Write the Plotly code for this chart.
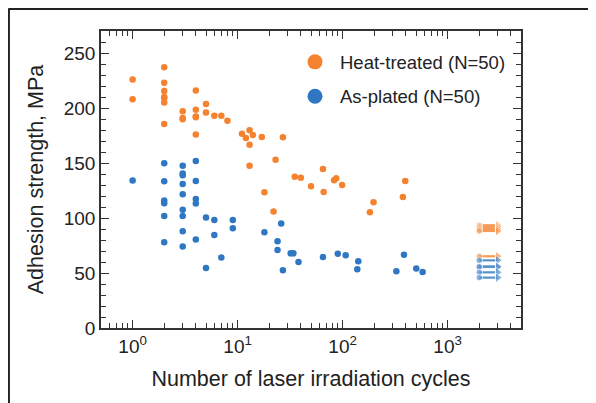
import plotly.graph_objects as go

# ---------------- data ----------------
heat_cycles = [1, 1,
               2, 2, 2, 2, 2, 2, 2,
               3, 3, 3,
               4, 4, 4, 4, 4,
               5, 5, 6, 7, 8, 11, 12, 13, 13, 13, 14, 17, 18, 22, 23, 27,
               35, 40, 50, 65, 66, 83, 87, 99, 182, 197, 375, 395]
heat_strength = [226, 208,
                 237, 223, 215.5, 210, 209, 205, 185.5,
                 197, 191, 189.7,
                 216, 198.5, 192.2, 191.5, 176,
                 203.6, 195.8, 193, 193, 188.5, 176.7, 172.7, 179.7, 166.7, 147.6,
                 175.5, 173.6, 123.4, 106, 153, 173.4,
                 137.6, 136.7, 128.8, 144.5, 123.6, 134.3, 136.1, 130, 105.2, 114.3, 119.1, 133.6]

plated_cycles = [1,
                 2, 2, 2, 2, 2, 2,
                 3, 3, 3, 3, 3, 3, 3, 3, 3,
                 4, 4, 4, 4, 4,
                 5, 5, 6, 6, 7, 9, 9, 18, 24, 24, 26, 27, 32, 34, 38,
                 65, 90, 107, 138, 141, 325, 384, 503, 578]
plated_strength = [134,
                   149.7, 133.4, 115.8, 113.4, 101.8, 77.9,
                   147.6, 140.4, 138.8, 130.9, 121.5, 107.6, 101.8, 87.9, 74,
                   151.8, 133.6, 117.3, 113.1, 80.4,
                   100.4, 54.5, 98.2, 84.5, 64, 98.2, 90.6, 87, 78.8, 70.9, 94.9, 52.5, 67.9, 67.9, 60,
                   64.5, 67.6, 66.1, 53.4, 60.6, 51.5, 66.7, 54, 50.9]

# run-outs (specimens not failed): start and end of the arrow
runout_start = 2000
runout_end = 3000
heat_runout = [93.4, 91.8, 90, 88.2, 65.2]
plated_runout = [61.5, 56, 55.5, 50.6, 45.8]

x_tickvals = [1, 10, 100, 1000]
x_ticktext = ["10<sup>0</sup>", "10<sup>1</sup>", "10<sup>2</sup>", "10<sup>3</sup>"]

ORANGE = "#F5822E"
BLUE = "#2F77C3"
FONT = "Liberation Sans, Arial, sans-serif"
INK = "#222222"

fig = go.Figure()


def runout_trace(values, color):
    xs, ys, syms, sizes = [], [], [], []
    for v in values:
        xs += [runout_start, runout_end, None]
        ys += [v, v, None]
        syms += ["circle", "triangle-right", "circle"]
        sizes += [6.5, 9, 0]
    return go.Scatter(x=xs, y=ys, mode="lines+markers",
                      line=dict(color=color, width=2.2),
                      marker=dict(color=color, size=sizes, symbol=syms),
                      opacity=0.8, showlegend=False, hoverinfo="skip")


fig.add_trace(runout_trace(heat_runout, ORANGE))
fig.add_trace(runout_trace(plated_runout, BLUE))

fig.add_trace(go.Scatter(x=heat_cycles, y=heat_strength, mode="markers",
                         marker=dict(color=ORANGE, size=6.5), showlegend=False))
fig.add_trace(go.Scatter(x=plated_cycles, y=plated_strength, mode="markers",
                         marker=dict(color=BLUE, size=6.5), showlegend=False))

# legend entries (large symbols)
fig.add_trace(go.Scatter(x=[None], y=[None], mode="markers", name="Heat-treated (N=50)",
                         marker=dict(color=ORANGE, size=15), legend="legend"))
fig.add_trace(go.Scatter(x=[None], y=[None], mode="markers", name="As-plated (N=50)",
                         marker=dict(color=BLUE, size=15), legend="legend2"))

axis_common = dict(
    showline=True, linecolor="#333333", linewidth=1.5, mirror="ticks",
    ticks="inside", ticklen=8, tickwidth=1.3, tickcolor="#333333",
    showgrid=False, zeroline=False,
    tickfont=dict(family=FONT, size=19, color=INK),
)

fig.update_xaxes(
    type="log", range=[-0.30103, 3.69897],
    tickmode="array", tickvals=x_tickvals, ticktext=x_ticktext,
    minor=dict(ticks="inside", ticklen=5, tickwidth=1.1, tickcolor="#333333", dtick="D1", showgrid=False),
    title=dict(text="Number of laser irradiation cycles", font=dict(family=FONT, size=21.5, color=INK), standoff=15),
    **axis_common,
)
fig.update_yaxes(
    range=[0, 270], dtick=50, tick0=0,
    minor=dict(ticks="inside", ticklen=5, tickwidth=1.1, tickcolor="#333333", dtick=10, showgrid=False),
    title=dict(text="Adhesion strength, MPa", font=dict(family=FONT, size=21.5, color=INK), standoff=14),
    **axis_common,
)

legend_style = dict(font=dict(family=FONT, size=18.5, color=INK), bgcolor="rgba(0,0,0,0)",
                    xanchor="left", yanchor="middle", itemwidth=40)

fig.update_layout(
    width=588, height=395,
    margin=dict(l=93, r=75, t=23, b=75),
    paper_bgcolor="white", plot_bgcolor="white",
    legend=dict(x=0.45, y=0.8945, **legend_style),
    legend2=dict(x=0.45, y=0.7786, **legend_style),
    shapes=[
        dict(type="line", xref="paper", yref="paper", x0=-0.2204, x1=1.2, y0=1.0758, y1=1.0758,
             line=dict(color=INK, width=3)),
        dict(type="line", xref="paper", yref="paper", x0=-0.2204, x1=-0.2204, y0=1.0758, y1=-0.26,
             line=dict(color=INK, width=3)),
    ],
)

fig.write_html("out.html")
